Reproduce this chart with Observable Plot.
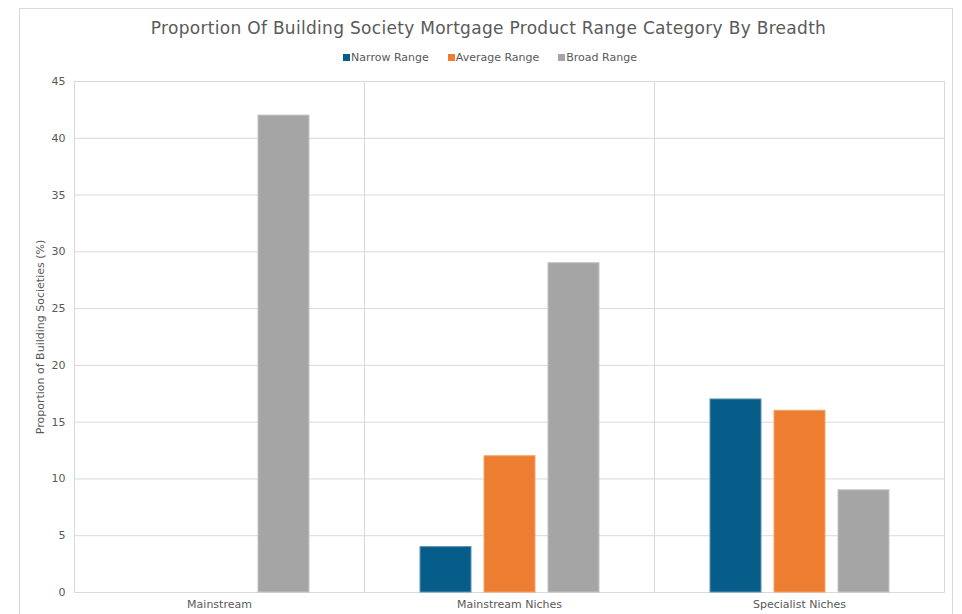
<!DOCTYPE html>
<html>
<head>
<meta charset="utf-8">
<script src="https://cdn.jsdelivr.net/npm/d3@7"></script>
<script src="https://cdn.jsdelivr.net/npm/@observablehq/plot@0.6"></script>
<style>
  body { margin: 0; background: #fff; font-family: "DejaVu Sans", sans-serif; }
  #wrap { position: relative; width: 962px; height: 614px; overflow: hidden; }
  #frame { position: absolute; left: 19px; top: 8px; width: 934px; height: 640px; border: 1px solid #d9d9d9; box-sizing: border-box; }
  #title { position: absolute; left: 0; width: 977px; top: 18px; text-align: center; font-size: 17px; color: #595959; letter-spacing: 0.3px; }
  #legend { position: absolute; left: 0; width: 980px; top: 51px; display: flex; justify-content: center; gap: 19px; font-size: 11px; color: #595959; }
  #legend span.sw { display: inline-block; width: 7px; height: 7px; margin-right: 1px; vertical-align: 0px; }
  #plot { position: absolute; left: 0; top: 0; }
</style>
</head>
<body>
<div id="wrap">
  <div id="frame"></div>
  <div id="plot"></div>
  <div id="title">Proportion Of Building Society Mortgage Product Range Category By Breadth</div>
  <div id="legend"></div>
</div>
<script>
const categories = ["Mainstream", "Mainstream Niches", "Specialist Niches"];
const series = ["Narrow Range", "Average Range", "Broad Range"];
const narrow = [0, 4, 17];
const average = [0, 12, 16];
const broad = [42, 29, 9];
const colors = ["#065d8a", "#ed7d31", "#a5a5a5"];
const strokes = ["#5f93b5", "#f3a36e", "#c4c4c4"];
const yTicks = [0, 5, 10, 15, 20, 25, 30, 35, 40, 45];

const values = [narrow, average, broad];
const data = [];
categories.forEach((c, i) => series.forEach((s, j) => {
  data.push({category: c, series: s, value: values[j][i]});
}));
const shown = data.filter(d => d.value > 0);

const legend = document.getElementById("legend");
series.forEach((s, j) => {
  const el = document.createElement("div");
  el.innerHTML = `<span class="sw" style="background:${colors[j]}"></span>${s}`;
  legend.appendChild(el);
});

const chart = Plot.plot({
  width: 962,
  height: 614,
  marginTop: 81,
  marginBottom: 22,
  marginLeft: 74,
  marginRight: 18,
  style: {fontFamily: "DejaVu Sans, sans-serif", fontSize: "11px", color: "#595959", background: "transparent"},
  fx: {domain: categories, padding: 0, label: null, axis: null},
  x: {domain: series, paddingInner: 0.2, paddingOuter: 0.85, axis: null},
  y: {domain: [0, 45], label: null},
  color: {domain: series, range: colors},
  marks: [
    Plot.gridY(yTicks, {stroke: "#d9d9d9", strokeOpacity: 1}),
    Plot.frame({stroke: "#d9d9d9"}),
    Plot.barY(shown, {fx: "category", x: "series", y: "value", fill: "series",
      stroke: d => strokes[series.indexOf(d.series)], strokeWidth: 1, dx: 1}),
    Plot.axisY(yTicks, {tickSize: 0, tickPadding: 9, label: "Proportion of Building Societies (%)",
      labelAnchor: "center", labelArrow: "none", labelOffset: 38, color: "#595959", fontSize: 11}),
    Plot.axisFx({anchor: "bottom", tickSize: 0, tickPadding: 8, label: null, color: "#595959", fontSize: 11})
  ]
});
document.getElementById("plot").appendChild(chart);
</script>
</body>
</html>
